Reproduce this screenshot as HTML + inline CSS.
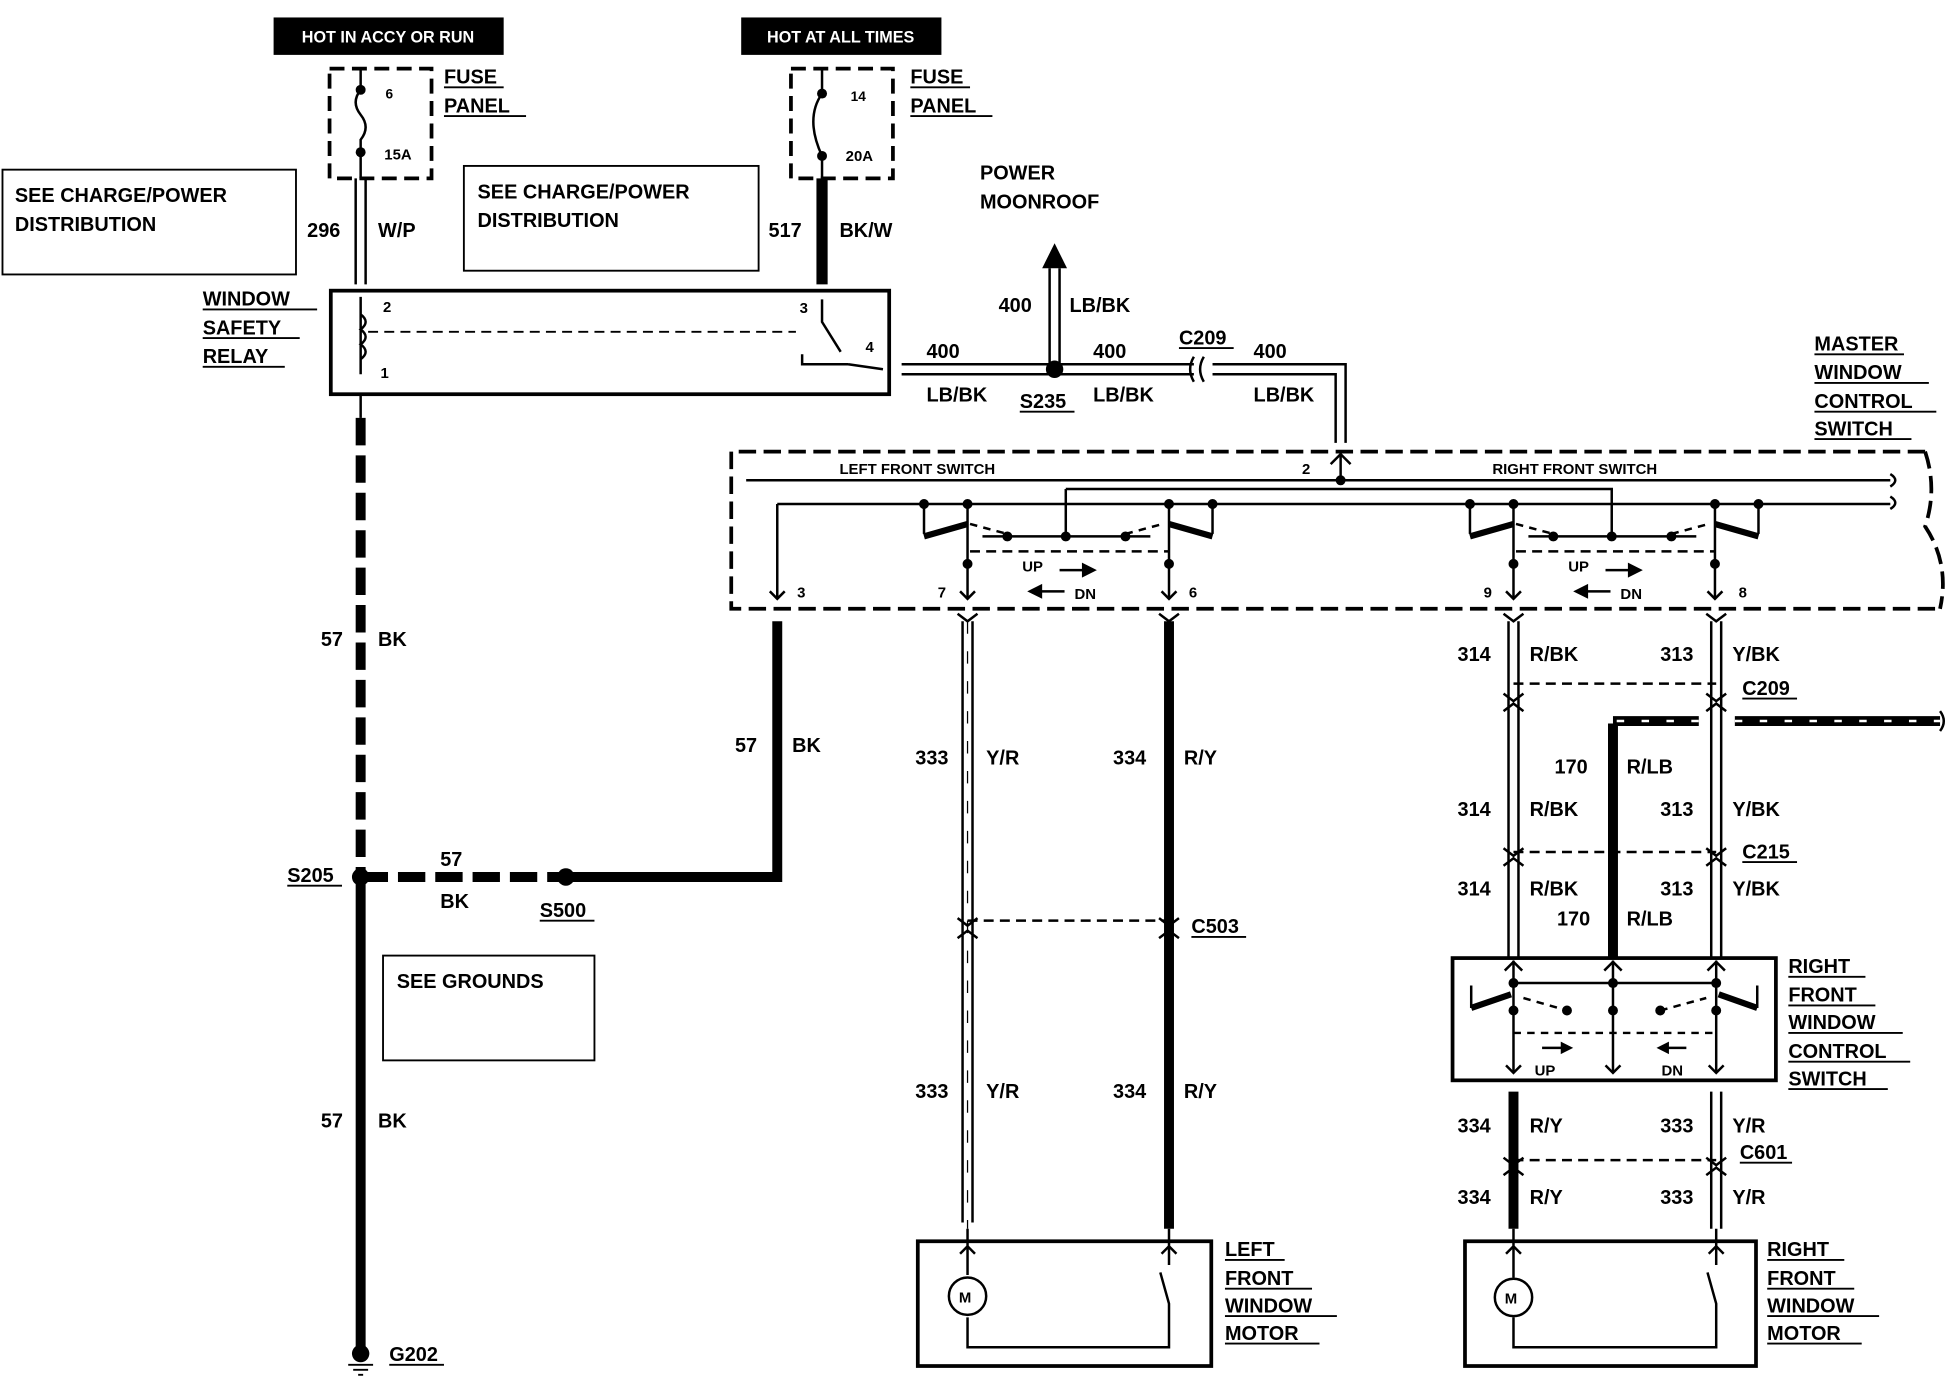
<!DOCTYPE html>
<html><head><meta charset="utf-8"><style>
html,body{margin:0;padding:0;background:#fff}
svg{display:block}
text{font-family:"Liberation Sans",sans-serif;font-weight:bold;fill:#000}
</style></head><body>
<svg width="1950" height="1376" viewBox="0 0 1568 1103" preserveAspectRatio="none" xmlns="http://www.w3.org/2000/svg">
<rect width="1568" height="1103" fill="#fff"/>
<g font-size="16">
<rect x="220" y="14" width="185" height="30" fill="#000"/>
<text x="312" y="34" text-anchor="middle" font-size="13" style="fill:#fff">HOT IN ACCY OR RUN</text>
<rect x="596" y="14" width="161" height="30" fill="#000"/>
<text x="676" y="34" text-anchor="middle" font-size="13" style="fill:#fff">HOT AT ALL TIMES</text>
<g fill="none" stroke="#000" stroke-width="3" stroke-dasharray="12,6">
<rect x="265" y="55" width="82" height="88"/><rect x="636" y="55" width="82" height="88"/>
</g>
<g stroke="#000" stroke-width="2" fill="none">
<path d="M290 55V72 q-8 10 0 20 q8 10 0 20 V143"/>
<path d="M661 55V75 q-14 20 0 50 V143"/>
</g>
<g fill="#000"><circle cx="290" cy="72" r="4"/><circle cx="290" cy="122" r="4"/><circle cx="661" cy="75" r="4"/><circle cx="661" cy="125" r="4"/></g>
<text x="310" y="79" font-size="11">6</text><text x="309" y="128" font-size="12">15A</text>
<text x="684" y="81" font-size="11">14</text><text x="680" y="129" font-size="12">20A</text>
<text x="357" y="67">FUSE</text><text x="357" y="90">PANEL</text>
<text x="732" y="67">FUSE</text><text x="732" y="90">PANEL</text>
<path d="M357 70h48M357 93h66M732 70h48M732 93h66" stroke="#000" stroke-width="1.5"/>
<rect x="2" y="136" width="236" height="84" fill="none" stroke="#000" stroke-width="1.5"/>
<text x="12" y="162">SEE CHARGE/POWER</text><text x="12" y="185">DISTRIBUTION</text>
<rect x="373" y="133" width="237" height="84" fill="none" stroke="#000" stroke-width="1.5"/>
<text x="384" y="159">SEE CHARGE/POWER</text><text x="384" y="182">DISTRIBUTION</text>
<rect x="308" y="766" width="170" height="84" fill="none" stroke="#000" stroke-width="1.5"/>
<text x="319" y="792">SEE GROUNDS</text>
<path d="M286 143V228M294 143V228" stroke="#000" stroke-width="2"/>
<path d="M661 143V228" stroke="#000" stroke-width="9"/>
<text x="247" y="190">296</text><text x="304" y="190">W/P</text>
<text x="618" y="190">517</text><text x="675" y="190">BK/W</text>
<text x="788" y="144">POWER</text><text x="788" y="167">MOONROOF</text>
<rect x="266" y="233" width="449" height="83" fill="none" stroke="#000" stroke-width="3"/>
<path d="M290 238V300 M290 252 q8 6 0 12 q8 6 0 12 q8 6 0 12" stroke="#000" stroke-width="2" fill="none"/>
<path d="M296 266H640" stroke="#000" stroke-width="1.5" stroke-dasharray="8,5"/>
<path d="M661 240V258 L676 282 M645 284V292H682 M682 292L710 296" stroke="#000" stroke-width="2" fill="none"/>
<text x="308" y="250" font-size="12">2</text><text x="306" y="303" font-size="12">1</text>
<text x="643" y="251" font-size="12">3</text><text x="696" y="282" font-size="12">4</text>
<text x="163" y="245">WINDOW</text><text x="163" y="268">SAFETY</text><text x="163" y="291">RELAY</text>
<path d="M163 248h92M163 271h78M163 294h66" stroke="#000" stroke-width="1.5"/>
<path d="M290 316V335" stroke="#000" stroke-width="2"/>
<path d="M290 335V700" stroke="#000" stroke-width="8" stroke-dasharray="22,8"/>
<path d="M290 700V1082" stroke="#000" stroke-width="8"/>
<circle cx="290" cy="703" r="7" fill="#000"/>
<path d="M290 703H455" stroke="#000" stroke-width="8" stroke-dasharray="22,8"/>
<circle cx="455" cy="703" r="7" fill="#000"/>
<path d="M455 703H625V498" stroke="#000" stroke-width="8" fill="none"/>
<circle cx="290" cy="1085" r="7" fill="#000"/>
<path d="M280 1094h20M284 1098h12M288 1102h4" stroke="#000" stroke-width="1.5"/>
<text x="313" y="1091">G202</text><path d="M313 1094h44" stroke="#000" stroke-width="1.5"/>
<text x="231" y="707">S205</text><path d="M231 710h44" stroke="#000" stroke-width="1.5"/>
<text x="434" y="735">S500</text><path d="M434 738h44" stroke="#000" stroke-width="1.5"/>
<text x="354" y="694">57</text><text x="354" y="728">BK</text>
<text x="258" y="518">57</text><text x="304" y="518">BK</text>
<text x="258" y="904">57</text><text x="304" y="904">BK</text>
<text x="591" y="603">57</text><text x="637" y="603">BK</text>
<g stroke="#000" stroke-width="2" fill="none">
<path d="M725 292H960 M725 300H960 M975 292H1082V355 M975 300H1074V355"/>
<path d="M844 296V215 M852 296V215"/>
<path d="M960 286 q-6 10 0 20 M968 286 q-6 10 0 20"/>
</g>
<polygon points="848,195 838,215 858,215" fill="#000"/>
<circle cx="848" cy="296" r="7" fill="#000"/>
<text x="803" y="250">400</text><text x="860" y="250">LB/BK</text>
<text x="745" y="287">400</text><text x="745" y="322">LB/BK</text>
<text x="879" y="287">400</text><text x="879" y="322">LB/BK</text>
<text x="1008" y="287">400</text><text x="1008" y="322">LB/BK</text>
<text x="820" y="327">S235</text><path d="M820 330h44" stroke="#000" stroke-width="1.5"/>
<text x="948" y="276">C209</text><path d="M948 279h44" stroke="#000" stroke-width="1.5"/>
<text x="1459" y="281">MASTER</text><text x="1459" y="304">WINDOW</text><text x="1459" y="327">CONTROL</text><text x="1459" y="349">SWITCH</text>
<path d="M1459 284h72M1459 307h92M1459 330h98M1459 352h78" stroke="#000" stroke-width="1.5"/>
<path d="M1548 362H588V488H1560 M1548 362 q10 30 0 60 q20 30 12 66" stroke="#000" stroke-width="3" stroke-dasharray="14,6" fill="none"/>
<text x="675" y="380" font-size="12" font-weight="normal">LEFT FRONT SWITCH</text>
<text x="1200" y="380" font-size="12" font-weight="normal">RIGHT FRONT SWITCH</text>
<text x="1047" y="380" font-size="12">2</text>
<g stroke="#000" stroke-width="2" fill="none">
<path d="M1078 365V385 M1070 372l8-8 8 8"/>
<path d="M600 385H1520 M625 404H1520 M625 404V480 M619 474l6 6 6-6"/>
<path d="M1520 380 q8 5 0 10 M1520 398 q8 5 0 10"/>
</g>
<circle cx="1078" cy="385" r="4" fill="#000"/>
<g id="sw">
<g stroke="#000" stroke-width="2" fill="none">
<path d="M743 404V428 M975 404V428 M778 404V480 M940 404V480 M857 430V392 M790 430H925"/>
<path d="M772 474l6 6 6-6 M934 474l6 6 6-6"/>
<path d="M780 420 L810 428 M905 428 L935 420" stroke-dasharray="6,5"/>
<path d="M780 442H940" stroke-dasharray="8,5"/>
<path d="M852 457H872 M835 474H856"/>
</g>
<path d="M743 430L778 420 M940 420L975 430" stroke="#000" stroke-width="5"/>
<g fill="#000"><circle cx="743" cy="404" r="4"/><circle cx="778" cy="404" r="4"/><circle cx="940" cy="404" r="4"/><circle cx="975" cy="404" r="4"/><circle cx="810" cy="430" r="4"/><circle cx="857" cy="430" r="4"/><circle cx="905" cy="430" r="4"/><circle cx="778" cy="452" r="4"/><circle cx="940" cy="452" r="4"/></g>
<polygon points="826,474 838,468 838,480" fill="#000"/>
<polygon points="882,457 870,451 870,463" fill="#000"/>
<text x="822" y="458" font-size="12" font-weight="normal">UP</text>
<text x="864" y="480" font-size="12" font-weight="normal">DN</text>
</g>
<use href="#sw" transform="translate(439,0)"/>
<path d="M857 392H1297" stroke="#000" stroke-width="2"/>
<text x="754" y="479" font-size="12">7</text><text x="956" y="479" font-size="12">6</text>
<text x="641" y="479" font-size="12">3</text>
<text x="1193" y="479" font-size="12">9</text><text x="1398" y="479" font-size="12">8</text>
<g stroke="#000" stroke-width="2" fill="none">
<path d="M774 498V980 M782 498V980"/>
<path d="M770 492l8 6 8-6 M770 736l8 6 8-6 M770 752l8-6 8 6 M932 492l8 6 8-6 M932 736l8 6 8-6 M932 752l8-6 8 6"/>
<path d="M778 738H940" stroke-dasharray="8,5"/>
</g>
<path d="M940 498V985" stroke="#000" stroke-width="8"/>
<path d="M778 498V985" stroke="#000" stroke-width="1" stroke-dasharray="10,14"/>
<text x="736" y="613">333</text><text x="793" y="613">Y/R</text>
<text x="895" y="613">334</text><text x="952" y="613">R/Y</text>
<text x="736" y="880">333</text><text x="793" y="880">Y/R</text>
<text x="895" y="880">334</text><text x="952" y="880">R/Y</text>
<text x="958" y="748">C503</text><path d="M958 751h44" stroke="#000" stroke-width="1.5"/>
<rect x="738" y="995" width="236" height="100" fill="none" stroke="#000" stroke-width="3"/>
<g stroke="#000" stroke-width="2" fill="none">
<path d="M778 985V1022 M778 1056V1080H940V1045 L933 1020 M940 1014V985 M772 1005l6-6 6 6 M934 1005l6-6 6 6"/>
<circle cx="778" cy="1039" r="15"/>
</g>
<text x="771" y="1044" font-size="12">M</text>
<text x="985" y="1007">LEFT</text><text x="985" y="1030">FRONT</text><text x="985" y="1052">WINDOW</text><text x="985" y="1074">MOTOR</text>
<path d="M985 1010h48M985 1033h70M985 1055h90M985 1077h76" stroke="#000" stroke-width="1.5"/>
<g stroke="#000" stroke-width="2" fill="none">
<path d="M1213 498V768 M1221 498V768 M1376 498V768 M1384 498V768"/>
<path d="M1209 492l8 6 8-6 M1372 492l8 6 8-6"/>
<path d="M1209 556l8 6 8-6 M1209 570l8-6 8 6 M1372 556l8 6 8-6 M1372 570l8-6 8 6"/>
<path d="M1209 680l8 6 8-6 M1209 694l8-6 8 6 M1372 680l8 6 8-6 M1372 694l8-6 8 6"/>
<path d="M1217 548H1380 M1217 683H1380" stroke-dasharray="8,5"/>
</g>
<path d="M1297 580V768 M1297 578H1366 M1395 578H1560" stroke="#000" stroke-width="8"/>
<path d="M1300 578H1366 M1395 578H1560" stroke="#fff" stroke-width="2" stroke-dasharray="6,14"/>
<path d="M1560 570q6 8 0 16" stroke="#000" stroke-width="2" fill="none"/>
<text x="1172" y="530">314</text><text x="1230" y="530">R/BK</text>
<text x="1335" y="530">313</text><text x="1393" y="530">Y/BK</text>
<text x="1401" y="557">C209</text><path d="M1401 560h44" stroke="#000" stroke-width="1.5"/>
<text x="1250" y="620">170</text><text x="1308" y="620">R/LB</text>
<text x="1172" y="654">314</text><text x="1230" y="654">R/BK</text>
<text x="1335" y="654">313</text><text x="1393" y="654">Y/BK</text>
<text x="1401" y="688">C215</text><path d="M1401 691h44" stroke="#000" stroke-width="1.5"/>
<text x="1172" y="718">314</text><text x="1230" y="718">R/BK</text>
<text x="1335" y="718">313</text><text x="1393" y="718">Y/BK</text>
<text x="1252" y="742">170</text><text x="1308" y="742">R/LB</text>
<rect x="1168" y="768" width="260" height="98" fill="none" stroke="#000" stroke-width="3"/>
<g stroke="#000" stroke-width="2" fill="none">
<path d="M1217 770V860 M1297 770V860 M1380 770V860 M1183 790V808 M1413 790V808 M1217 788H1380"/>
<path d="M1210 778l7-7 7 7 M1290 778l7-7 7 7 M1373 778l7-7 7 7 M1211 854l6 6 6-6 M1291 854l6 6 6-6 M1374 854l6 6 6-6"/>
<path d="M1225 800L1260 810 M1335 810L1372 800 M1217 828H1380" stroke-dasharray="6,5"/>
<path d="M1240 840H1258 M1338 840H1356"/>
</g>
<path d="M1183 808L1215 797 M1382 797L1413 808" stroke="#000" stroke-width="5"/>
<g fill="#000"><circle cx="1217" cy="788" r="4"/><circle cx="1380" cy="788" r="4"/><circle cx="1297" cy="788" r="4"/><circle cx="1297" cy="810" r="4"/><circle cx="1260" cy="810" r="4"/><circle cx="1335" cy="810" r="4"/><circle cx="1217" cy="810" r="4"/><circle cx="1380" cy="810" r="4"/></g>
<polygon points="1265,840 1255,835 1255,845" fill="#000"/><polygon points="1332,840 1342,835 1342,845" fill="#000"/>
<text x="1234" y="862" font-size="12" font-weight="normal">UP</text><text x="1336" y="862" font-size="12" font-weight="normal">DN</text>
<text x="1438" y="780">RIGHT</text><text x="1438" y="803">FRONT</text><text x="1438" y="825">WINDOW</text><text x="1438" y="848">CONTROL</text><text x="1438" y="870">SWITCH</text>
<path d="M1438 783h62M1438 806h70M1438 828h92M1438 851h98M1438 873h80" stroke="#000" stroke-width="1.5"/>
<path d="M1217 875V985" stroke="#000" stroke-width="8"/>
<g stroke="#000" stroke-width="2" fill="none">
<path d="M1376 875V985 M1384 875V985"/>
<path d="M1209 928l8 6 8-6 M1209 942l8-6 8 6 M1372 928l8 6 8-6 M1372 942l8-6 8 6"/>
<path d="M1217 930H1380" stroke-dasharray="8,5"/>
</g>
<text x="1172" y="908">334</text><text x="1230" y="908">R/Y</text>
<text x="1335" y="908">333</text><text x="1393" y="908">Y/R</text>
<text x="1399" y="929">C601</text><path d="M1399 932h42" stroke="#000" stroke-width="1.5"/>
<text x="1172" y="965">334</text><text x="1230" y="965">R/Y</text>
<text x="1335" y="965">333</text><text x="1393" y="965">Y/R</text>
<rect x="1178" y="995" width="234" height="100" fill="none" stroke="#000" stroke-width="3"/>
<g stroke="#000" stroke-width="2" fill="none">
<path d="M1217 985V1024 M1217 1056V1080H1380V1045 L1373 1020 M1380 1014V985 M1211 1005l6-6 6 6 M1374 1005l6-6 6 6"/>
<circle cx="1217" cy="1040" r="15"/>
</g>
<text x="1210" y="1045" font-size="12">M</text>
<text x="1421" y="1007">RIGHT</text><text x="1421" y="1030">FRONT</text><text x="1421" y="1052">WINDOW</text><text x="1421" y="1074">MOTOR</text>
<path d="M1421 1010h62M1421 1033h70M1421 1055h90M1421 1077h76" stroke="#000" stroke-width="1.5"/>
</g>
</svg>
</body></html>
